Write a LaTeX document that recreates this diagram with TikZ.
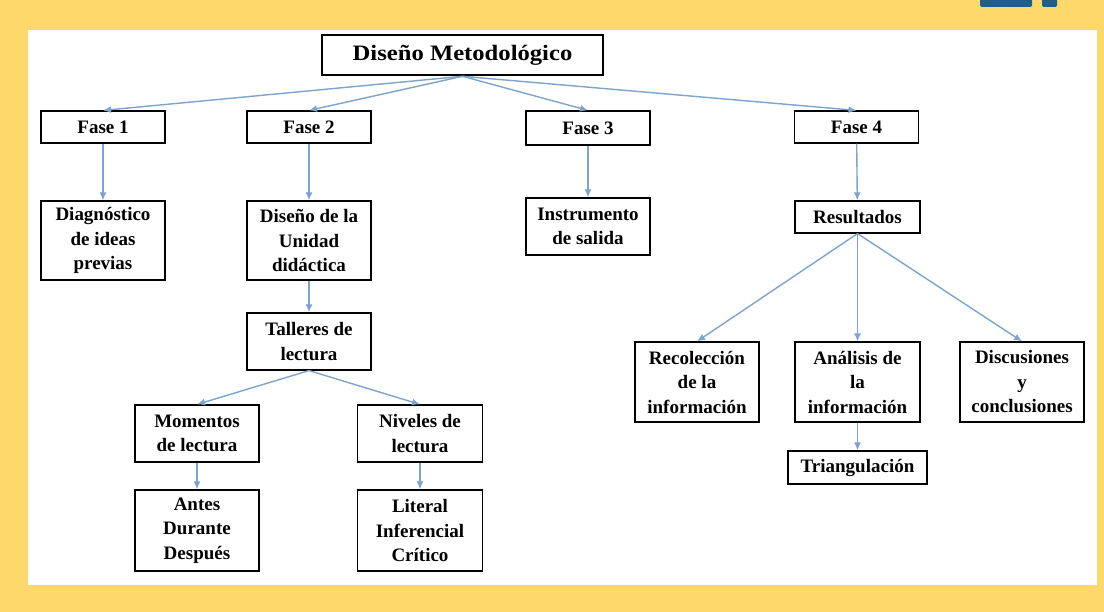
\documentclass[tikz,border=0pt]{standalone}
\usepackage{fontspec}
\setmainfont{Liberation Serif}
\newfontfamily\titulofont{Liberation Serif}[FakeStretch=1.12]
\usepackage{xcolor}
\usepackage{tikz}
\usetikzlibrary{arrows.meta}
\definecolor{fondo}{HTML}{FDD86A}
\definecolor{flechaazul}{HTML}{7CA4CC}
\definecolor{botonazul}{HTML}{1F5F8B}
\tikzset{
caja/.style={
  draw=black,
  line width=1.2pt,
  fill=white,
  rectangle,
  align=center,
  font=\fontsize{19}{24.5}\selectfont\bfseries,
  inner sep=0pt
},
flecha/.style={
  draw=flechaazul,
  line width=1.4pt,
  -{Latex[length=8pt,width=7pt]}
},
}

\begin{document}
\begin{tikzpicture}[x=1pt,y=-1pt]
\useasboundingbox (0,0) rectangle (1104,612);
% the frame
\fill[fondo] (0,0) rectangle (1104,612);
\fill[white] (28,30) rectangle (1097,585);
\fill[botonazul,rounded corners=1.5pt] (980,-4) rectangle (1032,7);
\fill[botonazul,rounded corners=1.5pt] (1042,-4) rectangle (1057,7);
% the boxes
\node[caja,line width=2.6pt,minimum width=281pt,minimum height=40pt,
  font=\fontsize{22}{26}\titulofont\bfseries] (titulo) at (462.5,55) {Diseño Metodológico};
\node[caja,minimum width=124pt,minimum height=32pt] (fase1) at (103,127) {Fase 1};
\node[caja,minimum width=124pt,minimum height=32pt] (fase2) at (309,127) {Fase 2};
\node[caja,minimum width=124pt,minimum height=34pt] (fase3) at (588,128) {Fase 3};
\node[caja,minimum width=124pt,minimum height=32pt] (fase4) at (856.5,127) {Fase 4};
\node[caja,minimum width=124pt,minimum height=79pt] (diagnostico) at (103,240.5) {Diagnóstico\\de ideas\\previas};
\node[caja,minimum width=124pt,minimum height=79pt] (unidad) at (309,240.5) {Diseño de la\\Unidad\\didáctica};
\node[caja,minimum width=124pt,minimum height=57pt] (talleres) at (309,341.5) {Talleres de\\lectura};
\node[caja,minimum width=124pt,minimum height=57pt] (momentos) at (197,433.5) {Momentos\\de lectura};
\node[caja,minimum width=125pt,minimum height=57pt] (niveles) at (420,433.5) {Niveles de\\lectura};
\node[caja,minimum width=124pt,minimum height=81pt] (antes) at (197,530.5) {Antes\\Durante\\Después};
\node[caja,minimum width=125pt,minimum height=81pt] (literal) at (420,530.5) {Literal\\Inferencial\\Crítico};
\node[caja,minimum width=124pt,minimum height=57pt] (instrumento) at (588,226.5) {Instrumento\\de salida};
\node[caja,minimum width=125pt,minimum height=32pt] (resultados) at (857.5,217) {Resultados};
\node[caja,minimum width=124pt,minimum height=80pt] (recoleccion) at (697,382) {Recolección\\de la\\información};
\node[caja,minimum width=125pt,minimum height=80pt] (analisis) at (857.5,382) {Análisis de\\la\\información};
\node[caja,minimum width=124pt,minimum height=80pt] (discusiones) at (1022,382) {Discusiones\\y\\conclusiones};
\node[caja,minimum width=139pt,minimum height=33pt] (triangulacion) at (857.5,467.5) {Triangulación};
% the arrows
\foreach \f in {fase1,fase2,fase3,fase4}
{
  \draw[flecha] (titulo.south) -- (\f.north);
}
\draw[flecha] (fase1) -- (diagnostico);
\draw[flecha] (fase2) -- (unidad);
\draw[flecha] (unidad) -- (talleres);
\draw[flecha] (talleres.south) -- (momentos.north);
\draw[flecha] (talleres.south) -- (niveles.north);
\draw[flecha] (momentos) -- (antes);
\draw[flecha] (niveles) -- (literal);
\draw[flecha] (fase3) -- (instrumento);
\draw[flecha] (fase4) -- (resultados);
\foreach \r in {recoleccion,analisis,discusiones}
{
  \draw[flecha] (resultados.south) -- (\r.north);
}
\draw[flecha] (analisis) -- (triangulacion);
\end{tikzpicture}
\end{document}
